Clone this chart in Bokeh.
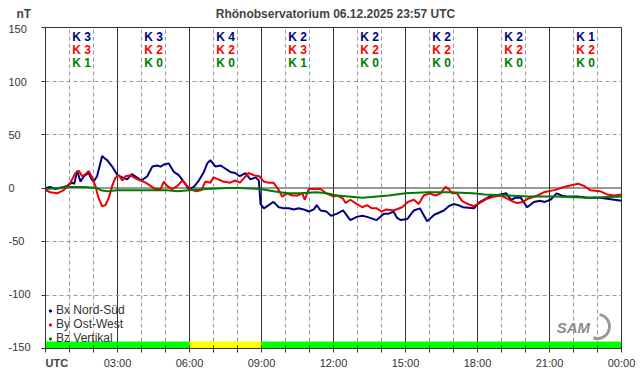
import math
from bokeh.plotting import figure
from bokeh.models import (Range1d, FixedTicker, Span, Label, Legend, LegendItem,
                          ColumnDataSource)
from bokeh.core.properties import value
from bokeh.embed import file_html
from bokeh.resources import INLINE

FONT = "Liberation Sans"
TXT = "#333333"

# ---------------- data ----------------
bx_t = [0.0, 0.2, 0.4, 0.63, 0.9, 1.1, 1.2, 1.32, 1.46, 1.6, 1.8, 1.9, 2.0, 2.15, 2.36, 2.5, 2.57, 2.78,
        3.0, 3.2, 3.4, 3.6, 3.8, 4.0, 4.24, 4.45, 4.65, 4.8, 4.93, 5.14, 5.35, 5.55, 5.76, 5.97,
        6.18, 6.39, 6.6, 6.74, 6.87, 7.08, 7.3, 7.5, 7.7, 7.9, 8.1, 8.33, 8.54, 8.75, 8.89, 8.96,
        9.1, 9.3, 9.5, 9.72, 9.93, 10.14, 10.35, 10.55, 10.76, 10.97, 11.18, 11.3, 11.46, 11.7, 11.9,
        12.15, 12.4, 12.7, 12.97, 13.2, 13.4, 13.8, 14.1, 14.3, 14.5, 14.65, 14.8, 15.07, 15.35, 15.6,
        15.9, 16.2, 16.6, 16.8, 17.0, 17.2, 17.4, 17.85, 18.1, 18.26, 18.5, 18.96, 19.2, 19.4, 19.6,
        19.8, 20.07, 20.35, 20.6, 20.8, 21.04, 21.3, 21.5, 21.7, 22.15, 22.6, 23.0, 23.4, 23.7, 24.0]
bx_v = [0, 1, -1, 0, 2, 5, 4, 16, 6, 11, 14, 9, 6, 11, 30, 27, 26, 20,
        12, 10, 8, 13, 10, 7, 11, 20, 21, 20, 22, 23, 15, 12, 6, -1,
        1, 7, 15, 23, 26, 20, 21, 18, 15, 14, 11, 14, 8, 10, 7, -15,
        -19, -16, -13, -18, -19, -19, -20, -19, -20, -22, -20, -16, -21, -22, -26,
        -24, -21, -30, -27, -26, -27, -30, -24, -24, -22, -28, -30, -29, -21, -19,
        -31, -25, -21, -17, -15, -16, -18, -19, -13, -11, -8, -6, -5, -11, -9,
        -9, -18, -13, -12, -13, -11, -5, -7, -8, -8, -9, -9, -10, -11, -12]

by_t = [0.0, 0.2, 0.49, 0.76, 1.04, 1.25, 1.39, 1.53, 1.67, 1.8, 1.94, 2.08, 2.2, 2.36, 2.5, 2.64,
        2.78, 2.9, 3.05, 3.2, 3.33, 3.54, 3.75, 3.96, 4.17, 4.38, 4.58, 4.8, 4.93, 5.07, 5.28, 5.5,
        5.7, 5.9, 6.1, 6.3, 6.5, 6.66, 6.87, 7.0, 7.2, 7.4, 7.7, 7.9, 8.1, 8.3, 8.47, 8.68, 8.9,
        9.1, 9.3, 9.5, 9.72, 9.86, 10.07, 10.28, 10.5, 10.7, 10.8, 10.97, 11.18, 11.46, 11.7, 12.0,
        12.15, 12.4, 12.5, 12.7, 12.9, 13.2, 13.4, 13.6, 13.8, 14.0, 14.2, 14.5, 14.86, 15.1, 15.35,
        15.55, 15.76, 16.0, 16.25, 16.46, 16.67, 16.8, 16.95, 17.15, 17.35, 17.6, 17.85, 18.1, 18.4,
        18.7, 18.96, 19.24, 19.5, 19.65, 19.9, 20.1, 20.5, 20.76, 21.2, 21.6, 22.0, 22.2, 22.43,
        22.7, 23.1, 23.4, 23.7, 24.0]
by_v = [-2, -4, -5, -2, 5, 14, 16, 11, 13, 16, 10, 2, -9, -17, -16, -9,
        2, 9, 12, 7, 11, 12, 9, 7, 5, 2, -1, -1, 6, 2, -1, 2,
        7, 2, -2, -3, -2, 6, 5, 10, 8, 6, 5, 7, 5, 10, 14, 12, 11,
        6, 5, 5, -2, -8, -5, -7, -7, -5, -11, -1, -1, -1, -5, -8,
        -7, -10, -14, -11, -14, -18, -16, -19, -19, -22, -20, -21, -18, -13, -11,
        -15, -7, -5, -7, -5, 1, -1, -5, -5, -12, -15, -17, -14, -10,
        -8, -7, -10, -13, -14, -13, -10, -7, -4, -2, 1, 3, 4, 2,
        -2, -3, -6, -7, -6]

bz_t = [0.0, 0.5, 0.9, 1.6, 2.15, 2.3, 2.57, 3.0, 3.7, 4.4, 5.07, 5.5, 6.0, 6.7, 7.6, 8.1, 8.96,
        9.5, 10.07, 10.6, 11.3, 11.7, 12.15, 13.2, 14.3, 15.0, 15.9, 16.8, 17.8, 18.3, 19.2, 20.1,
        21.2, 22.6, 24.0]
bz_v = [-1, 0, 1, 1, 0, -2, -3, -2, -2, -2, -2, -3, -2, -1, 0, 0, -1,
        -3, -5, -5, -4, -5, -7, -9, -7, -5, -4, -4, -5, -6, -7, -8,
        -8, -9, -8]

k_bins = [0, 3, 6, 9, 12, 15, 18, 21]
k_bx = [3, 3, 4, 2, 2, 2, 2, 1]
k_by = [3, 2, 2, 3, 2, 2, 2, 2]
k_bz = [1, 0, 0, 1, 0, 0, 0, 0]

y_ticks = [150, 100, 50, 0, -50, -100, -150]
x_ticks = [0, 3, 6, 9, 12, 15, 18, 21, 24]
x_labels = ["", "03:00", "06:00", "09:00", "12:00", "15:00", "18:00", "21:00", "00:00"]
series_names = ["Bx Nord-Süd", "By Ost-West", "Bz Vertikal"]
title_text = "Rhönobservatorium 06.12.2025 23:57 UTC"
unit_text = "nT"
time_text = "UTC"

C_BX, C_BY, C_BZ = "#000080", "#ee0000", "#007a00"

# ---------------- figure ----------------
p = figure(width=642, height=376, output_backend="svg", toolbar_location=None,
           x_range=Range1d(0, 24), y_range=Range1d(-150, 150),
           min_border_left=45, min_border_right=21, min_border_top=27, min_border_bottom=28)
p.background_fill_color = "white"
p.border_fill_color = "white"
p.outline_line_color = "#333333"
p.outline_line_width = 1

# x axis
minor_hours = [h for h in range(25) if h % 3 != 0]
p.xaxis.ticker = FixedTicker(ticks=x_ticks, minor_ticks=minor_hours)
p.xaxis.major_label_overrides = {t: l for t, l in zip(x_ticks, x_labels)}
p.xaxis.major_label_text_font = FONT
p.xaxis.major_label_text_font_size = "11px"
p.xaxis.major_label_text_color = TXT
p.xaxis.major_label_standoff = 4
p.xaxis.major_tick_in = 3
p.xaxis.major_tick_out = 4
p.xaxis.minor_tick_in = 3
p.xaxis.minor_tick_out = 4
p.xaxis.axis_line_color = "#333333"
p.xaxis.major_tick_line_color = "#333333"
p.xaxis.minor_tick_line_color = "#333333"

# y axis (labels drawn separately, left aligned)
p.yaxis.ticker = FixedTicker(ticks=y_ticks, minor_ticks=[])
p.yaxis.major_label_text_color = None
p.yaxis.major_label_text_font_size = "1px"
p.yaxis.major_label_standoff = 0
p.yaxis.major_tick_in = 0
p.yaxis.major_tick_out = 4
p.yaxis.axis_line_color = "#333333"
p.yaxis.major_tick_line_color = "#333333"

# grids
xg = p.xgrid[0]
xg.ticker = FixedTicker(ticks=x_ticks, minor_ticks=minor_hours)
xg.grid_line_color = "#333333"
xg.grid_line_width = 1
xg.minor_grid_line_color = "#9a9a9a"
xg.minor_grid_line_dash = "4 3"
yg = p.ygrid[0]
yg.ticker = FixedTicker(ticks=[t for t in y_ticks if t not in (0, 150, -150)])
yg.grid_line_color = "#9a9a9a"
yg.grid_line_dash = "4 3"
zero = Span(location=0, dimension="width", line_color="#333333", line_width=1, level="underlay")
p.add_layout(zero)

# activity bar at bottom
k_max = [max(a, b, c) for a, b, c in zip(k_bx, k_by, k_bz)]
bar_colors = ["#ffff00" if k >= 4 else "#00ff00" for k in k_max]
p.quad(left=k_bins, right=[b + 3 for b in k_bins], bottom=-150, top=-143.5,
       fill_color=bar_colors, line_color=None)

# curves
p.line(bx_t, bx_v, line_color=C_BX, line_width=2)
p.line(by_t, by_v, line_color=C_BY, line_width=2)
p.line(bz_t, bz_v, line_color=C_BZ, line_width=2)

# K labels
centers = [b + 1.5 for b in k_bins]
for ks, col, off in ((k_bx, C_BX, 9), (k_by, "#ff0000", 22), (k_bz, "#008000", 35)):
    src = ColumnDataSource(dict(x=centers, y=[150] * len(centers), t=[f"K {k}" for k in ks]))
    p.text(x="x", y="y", text="t", source=src, y_offset=off, text_align="center",
           text_baseline="middle", text_font=value(FONT), text_font_size="12px",
           text_font_style="bold", text_color=col)

# legend with dots
nan = float("nan")
dots = [p.scatter(x=[nan], y=[nan], size=3, color=c) for c in (C_BX, C_BY, C_BZ)]
leg = Legend(items=[LegendItem(label=n, renderers=[r]) for n, r in zip(series_names, dots)],
             location=(2, 3), orientation="vertical", background_fill_alpha=0,
             border_line_color=None, margin=0, padding=0, spacing=0,
             glyph_width=6, glyph_height=13, label_height=13, label_standoff=3,
             label_text_font=FONT, label_text_font_size="12px", label_text_color=TXT)
p.add_layout(leg)

# texts outside the frame: side-panel labels (not clipped), anchored in data units
# y tick labels as one left-aligned multi-line block centred on the middle tick
p.add_layout(Label(x=0, y=y_ticks[len(y_ticks) // 2], x_offset=-37,
                   text="\n".join(str(t) for t in y_ticks),
                   text_align="left", text_baseline="middle", text_font=FONT,
                   text_font_size="11px", text_line_height=4.43, text_color=TXT), "left")

p.add_layout(Label(x=0, y=150, x_offset=-29, y_offset=14, text=unit_text,
                   text_align="left", text_baseline="middle", text_font=FONT,
                   text_font_size="12px", text_font_style="bold", text_color="#444444"), "right")
p.add_layout(Label(x=12, y=150, x_offset=2, y_offset=14, text=title_text,
                   text_align="center", text_baseline="middle", text_font=FONT,
                   text_font_size="12px", text_font_style="bold", text_color="#444444"), "above")
p.add_layout(Label(x=0, y=-150, y_offset=-14, text=time_text,
                   text_align="left", text_baseline="middle", text_font=FONT,
                   text_font_size="11px", text_font_style="bold", text_color="#444444"), "above")

# SAM logo
p.add_layout(Label(x=21.3, y=-150, y_offset=21, text="SAM",
                   text_align="left", text_baseline="middle", text_font=FONT,
                   text_font_size="15px", text_font_style="bold italic", text_color="#8c8c8c"))
p.arc(x=[23.0], y=[-129.4], radius=12, radius_units="screen",
      start_angle=-math.radians(110), end_angle=math.radians(80),
      line_color="#999999", line_width=3)

open("out.html", "w").write(file_html(p, INLINE))
